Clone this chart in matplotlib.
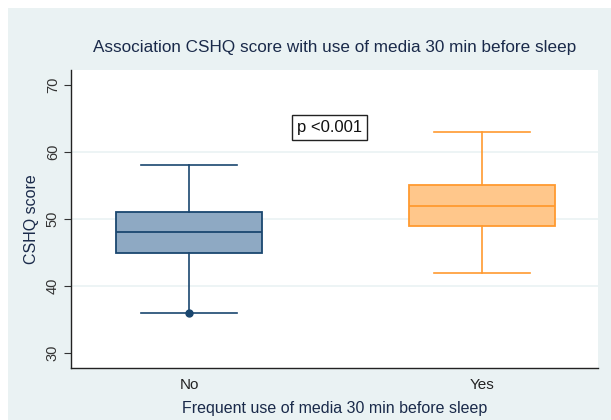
import numpy as np
import matplotlib
matplotlib.use("Agg")
import matplotlib.pyplot as plt
from matplotlib.patches import Rectangle

plt.rcParams['font.family'] = ['Liberation Sans', 'DejaVu Sans']

# box summaries
groups = ["No", "Yes"]
whisker_low = [36, 42]
q1 = [45, 49]
median = [48, 52]
q3 = [51, 55]
whisker_high = [58, 63]
outliers = [[36], []]

fill_colors = ["#8EA9C3", "#FFC78B"]
edge_colors = ["#1A476F", "#FF9A30"]

yticks = [30, 40, 50, 60, 70]

fig = plt.figure(figsize=(6.11, 4.2), dpi=100)
fig.patch.set_facecolor("white")
# stata-like light background panel (white strip at top and left)
fig.patches.append(Rectangle((8 / 611, 0), 1, 1 - 8 / 420, transform=fig.transFigure,
                             facecolor="#EAF2F3", edgecolor="none", zorder=-10))

ax = fig.add_axes([71 / 611, 1 - 368 / 420, 527 / 611, 298 / 420])
ax.set_facecolor("white")

stats = []
for i in range(len(groups)):
    stats.append(dict(label=groups[i], whislo=whisker_low[i], q1=q1[i], med=median[i],
                      q3=q3[i], whishi=whisker_high[i], fliers=outliers[i]))

positions = np.arange(1, len(groups) + 1)
for i, s in enumerate(stats):
    ax.bxp([s], positions=[positions[i]], widths=0.5, capwidths=0.33, patch_artist=True,
           boxprops=dict(facecolor=fill_colors[i], edgecolor=edge_colors[i], linewidth=1.3),
           medianprops=dict(color=edge_colors[i], linewidth=1.3),
           whiskerprops=dict(color=edge_colors[i], linewidth=1.2),
           capprops=dict(color=edge_colors[i], linewidth=1.2),
           flierprops=dict(marker="o", markersize=5, markerfacecolor=edge_colors[i],
                           markeredgecolor=edge_colors[i]),
           zorder=3)

ax.set_xlim(0.597, 2.396)
ax.set_ylim(27.8, 72.2)
ax.set_yticks(yticks)
ax.set_yticklabels([str(t) for t in yticks], rotation=90, va="center", fontsize=10.5, color="#333333")
ax.set_xticks(positions)
ax.set_xticklabels(groups, fontsize=11, color="#222222")
ax.tick_params(axis="x", length=0, pad=7)
ax.tick_params(axis="y", length=5, width=0.8, color="#333333", pad=3)

for t in [40, 50, 60]:
    ax.axhline(t, color="#EAF2F3", linewidth=1.2, zorder=1)

for side in ["top", "right"]:
    ax.spines[side].set_visible(False)
for side in ["left", "bottom"]:
    ax.spines[side].set_color("#222222")
    ax.spines[side].set_linewidth(1.0)

ax.set_ylabel("CSHQ score", fontsize=11.5, color="#1a2a4a", labelpad=5)
ax.set_xlabel("Frequent use of media 30 min before sleep", fontsize=11.5, color="#1a2a4a", labelpad=7)
ax.set_title("Association CSHQ score with use of media 30 min before sleep",
             fontsize=12.3, color="#1a2a4a", pad=13)

ax.text(1.48, 63.6, "p <0.001", fontsize=12, ha="center", va="center", color="#111111",
        bbox=dict(boxstyle="square,pad=0.3", facecolor="white", edgecolor="#222222", linewidth=1.0),
        zorder=5)

fig.savefig("out.png", dpi=100)
